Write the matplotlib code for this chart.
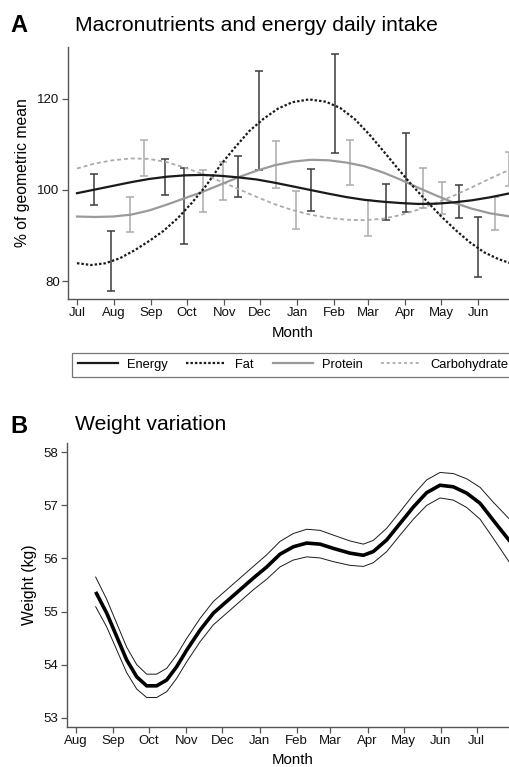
import matplotlib
matplotlib.use("Agg")
import matplotlib.pyplot as plt
from matplotlib.lines import Line2D

plt.rcParams['font.family'] = ['Liberation Sans', 'DejaVu Sans']

# ---- Panel A: macronutrients, % of geometric mean (days from 1 Jul) ----
months_a = ["Jul", "Aug", "Sep", "Oct", "Nov", "Dec", "Jan", "Feb", "Mar", "Apr", "May", "Jun"]
month_days_a = [0, 31, 62, 92, 123, 153, 184, 215, 243, 274, 304, 335]

energy_day = [0, 15, 30, 45, 60, 75, 90, 105, 120, 135, 150, 165, 180, 195, 210,
              225, 240, 255, 270, 285, 300, 315, 330, 345, 362]
energy_val = [99.3, 100.1, 100.9, 101.7, 102.4, 102.9, 103.2, 103.3, 103.1, 102.75, 102.3,
              101.6, 100.8, 100.0, 99.2, 98.45, 97.85, 97.45, 97.15, 96.95, 97.0, 97.3,
              97.75, 98.4, 99.3]

fat_day = [0, 12, 24, 36, 48, 60, 72, 84, 96, 108, 120, 132, 144, 156, 168, 180, 194,
           208, 220, 232, 244, 256, 268, 280, 292, 304, 316, 328, 340, 352, 362]
fat_val = [84.0, 83.6, 84.0, 85.1, 86.8, 88.8, 91.0, 93.8, 97.2, 101.0, 105.5, 109.3,
           112.9, 115.6, 117.8, 119.2, 119.8, 119.3, 117.9, 115.5, 112.2, 108.5, 104.7,
           101.0, 97.6, 94.3, 91.3, 88.6, 86.4, 84.9, 84.0]

protein_day = [0, 15, 30, 45, 60, 75, 90, 105, 120, 135, 150, 165, 180, 195, 210,
               225, 240, 255, 270, 285, 300, 315, 330, 345, 362]
protein_val = [94.2, 94.1, 94.2, 94.6, 95.5, 96.8, 98.2, 99.6, 101.2, 102.8, 104.2, 105.4,
               106.2, 106.6, 106.5, 106.0, 105.2, 103.9, 102.3, 100.5, 98.8, 97.2, 95.9,
               94.9, 94.2]

carb_day = [0, 15, 30, 45, 60, 75, 90, 105, 120, 135, 150, 165, 180, 195, 210,
            225, 240, 255, 270, 285, 300, 315, 330, 345, 362]
carb_val = [104.7, 105.8, 106.5, 106.9, 106.8, 106.1, 104.9, 103.5, 101.9, 100.2, 98.5,
            96.9, 95.6, 94.6, 93.9, 93.5, 93.4, 93.7, 94.5, 95.7, 97.2, 98.8, 100.6,
            102.5, 104.5]

# error bars (low, high)
energy_bar_day = [14.2, 73.2, 134.4, 195.9, 258.5, 319.1]
energy_lo = [96.7, 98.9, 98.4, 95.5, 93.4, 93.9]
energy_hi = [103.6, 106.7, 107.4, 104.5, 101.4, 101.0]

fat_bar_day = [28.4, 89.0, 152.2, 215.3, 274.6, 334.7]
fat_lo = [77.9, 88.2, 104.4, 108.0, 95.1, 80.9]
fat_hi = [91.0, 104.7, 126.1, 129.8, 112.4, 94.2]

protein_bar_day = [44.2, 105.4, 166.1, 228.4, 289.0, 348.9]
protein_lo = [90.8, 95.1, 100.4, 101.0, 96.1, 91.2]
protein_hi = [98.5, 104.3, 110.8, 111.0, 104.7, 98.5]

carb_bar_day = [56.2, 122.1, 183.3, 243.2, 304.6, 360.6]
carb_lo = [103.1, 97.8, 91.5, 90.0, 94.7, 100.9]
carb_hi = [111.0, 106.2, 99.7, 97.8, 101.7, 108.2]

# ---- Panel B: weight (days from 1 Aug) ----
months_b = ["Aug", "Sep", "Oct", "Nov", "Dec", "Jan", "Feb", "Mar", "Apr", "May", "Jun", "Jul"]
month_days_b = [0, 31, 61, 92, 122, 153, 184, 212, 243, 273, 304, 334]

weight_day = [16.4, 25.6, 33.9, 42.2, 50.6, 58.9, 67.2, 75.6, 83.9, 92.2, 103.4, 114.5,
              125.6, 136.7, 147.8, 159.0, 170.0, 181.1, 192.3, 203.4, 214.5, 228.4,
              239.5, 247.8, 259.0, 270.1, 281.2, 292.3, 303.4, 314.5, 325.7, 336.8,
              347.8, 361.8]
weight_mid = [55.37, 54.97, 54.53, 54.09, 53.77, 53.60, 53.60, 53.71, 53.96, 54.27, 54.65,
              54.97, 55.19, 55.41, 55.63, 55.84, 56.08, 56.22, 56.29, 56.27, 56.19, 56.10,
              56.06, 56.13, 56.35, 56.66, 56.97, 57.24, 57.38, 57.35, 57.23, 57.04, 56.72,
              56.32]
weight_up = [55.65, 55.23, 54.78, 54.33, 54.00, 53.82, 53.82, 53.93, 54.18, 54.49, 54.87,
             55.19, 55.41, 55.63, 55.85, 56.07, 56.32, 56.47, 56.55, 56.53, 56.44, 56.33,
             56.27, 56.34, 56.57, 56.88, 57.20, 57.48, 57.62, 57.60, 57.50, 57.34, 57.06,
             56.73]
weight_lo = [55.09, 54.71, 54.28, 53.85, 53.54, 53.38, 53.38, 53.49, 53.74, 54.05, 54.43,
             54.75, 54.97, 55.19, 55.41, 55.61, 55.84, 55.97, 56.03, 56.01, 55.94, 55.87,
             55.85, 55.92, 56.13, 56.44, 56.74, 57.00, 57.14, 57.10, 56.96, 56.74, 56.38,
             55.91]

W, H = 510, 767
fig = plt.figure(figsize=(W / 100, H / 100), dpi=100)

AXIS_COL = '#555555'
DARK = '#1a1a1a'
DARK_BAR = '#3c3c3c'
GREY = '#9a9a9a'
LIGHT = '#ababab'


def style_axes(ax):
    for s in ['top', 'right']:
        ax.spines[s].set_visible(False)
    for s in ['left', 'bottom']:
        ax.spines[s].set_color(AXIS_COL)
        ax.spines[s].set_linewidth(1.0)
    ax.tick_params(axis='both', colors=AXIS_COL, labelcolor='#111111',
                   labelsize=9.5, length=4.2, width=0.9, pad=1.8)


def bars(ax, x, lo, hi, color):
    mid = [(a + b) / 2 for a, b in zip(lo, hi)]
    err = [(b - a) / 2 for a, b in zip(lo, hi)]
    ax.errorbar(x, mid, yerr=err, fmt='none', ecolor=color, elinewidth=1.1,
                capsize=2.9, capthick=1.1, zorder=2)


# Panel A
axA = fig.add_axes([68 / W, 1 - 299 / H, 450 / W, 252 / H])
style_axes(axA)
bars(axA, energy_bar_day, energy_lo, energy_hi, DARK_BAR)
bars(axA, fat_bar_day, fat_lo, fat_hi, DARK_BAR)
bars(axA, protein_bar_day, protein_lo, protein_hi, LIGHT)
bars(axA, carb_bar_day, carb_lo, carb_hi, LIGHT)

axA.plot(carb_day, carb_val, color=LIGHT, lw=1.3, ls=(0, (2.2, 1.6)), zorder=3)
axA.plot(protein_day, protein_val, color=GREY, lw=1.6, zorder=3)
axA.plot(fat_day, fat_val, color=DARK, lw=1.6, ls=(0, (1.1, 0.9)), zorder=4)
axA.plot(energy_day, energy_val, color=DARK, lw=1.6, zorder=4)

axA.set_xlim(-7.5, 368.4)
axA.set_ylim(76.17, 131.26)
axA.set_yticks([80, 100, 120])
axA.set_xticks(month_days_a)
axA.set_xticklabels(months_a)
axA.set_xlabel('Month', fontsize=10.8, labelpad=5)
axA.set_ylabel('% of geometric mean', fontsize=11.3, labelpad=5)

fig.text(10 / W, 1 - 32 / H, 'A', fontsize=17, fontweight='bold', va='baseline')
fig.text(75 / W, 1 - 31 / H, 'Macronutrients and energy daily intake', fontsize=15.2,
         va='baseline')

handles = [Line2D([], [], color=DARK, lw=1.6),
           Line2D([], [], color=DARK, lw=1.6, ls=(0, (1.1, 0.9))),
           Line2D([], [], color=GREY, lw=1.6),
           Line2D([], [], color=LIGHT, lw=1.3, ls=(0, (1.6, 1.6)))]
leg = fig.legend(handles, ['Energy', 'Fat', 'Protein', 'Carbohydrate'],
                 loc='upper left', bbox_to_anchor=(72 / W, 1 - 353 / H), ncol=4,
                 fontsize=9.3, frameon=True, fancybox=False, handlelength=3.1,
                 handletextpad=0.7, columnspacing=1.45, borderpad=0.45,
                 borderaxespad=0)
leg.get_frame().set_edgecolor(AXIS_COL)
leg.get_frame().set_linewidth(0.9)

# Panel B
axB = fig.add_axes([66.7 / W, 1 - 726.7 / H, 452.6 / W, 283.4 / H])
style_axes(axB)
axB.plot(weight_day, weight_up, color=DARK, lw=0.7)
axB.plot(weight_day, weight_lo, color=DARK, lw=0.7)
axB.plot(weight_day, weight_mid, color='black', lw=2.6, solid_capstyle='butt')
axB.set_xlim(-7.75, 369.5)
axB.set_ylim(52.83, 58.17)
axB.set_yticks([53, 54, 55, 56, 57, 58])
axB.set_xticks(month_days_b)
axB.set_xticklabels(months_b)
axB.set_xlabel('Month', fontsize=10.8, labelpad=4)
axB.set_ylabel('Weight (kg)', fontsize=11.3, labelpad=5)

fig.text(10 / W, 1 - 433 / H, 'B', fontsize=17, fontweight='bold', va='baseline')
fig.text(75 / W, 1 - 430 / H, 'Weight variation', fontsize=15.2, va='baseline')

fig.savefig('out.png', dpi=100)
